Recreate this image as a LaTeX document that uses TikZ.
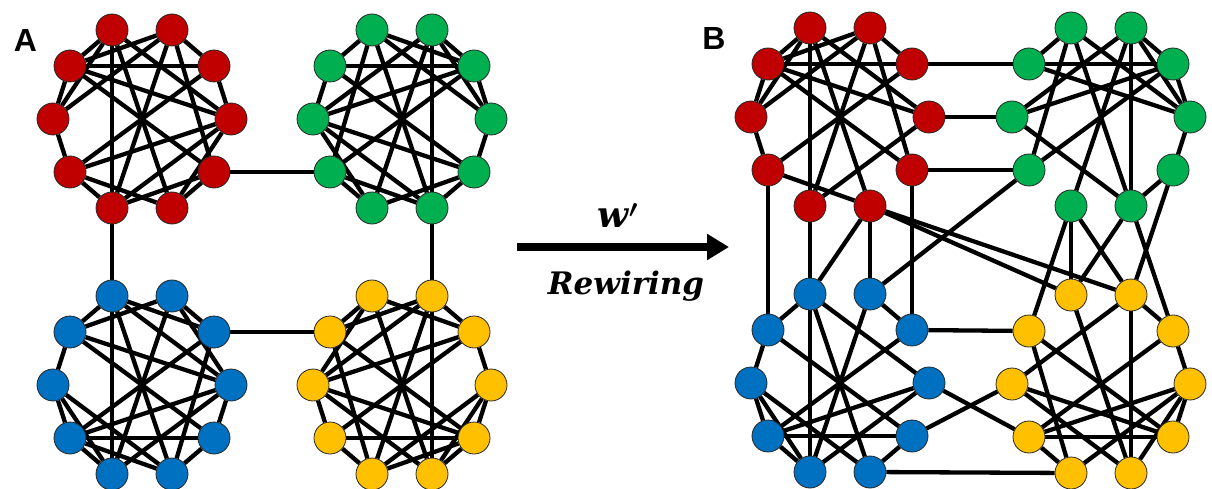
\documentclass[tikz,border=0pt]{standalone}
\usepackage{fontspec}
\usepackage{bm}
\newfontfamily\panelfont{Liberation Sans}
\newfontfamily\notefont{DejaVu Serif}
\usetikzlibrary{backgrounds,arrows.meta}

\definecolor{cred}{HTML}{C00000}
\definecolor{cgreen}{HTML}{00B050}
\definecolor{cblue}{HTML}{0070C0}
\definecolor{cyellow}{HTML}{FFC000}

\tikzset{
  vtx/.style={circle, draw=black!85, line width=0.8pt, minimum size=32pt, inner sep=0pt},
  edge/.style={line width=4.3pt, black},
  panel/.style={font=\panelfont\bfseries\fontsize{32}{32}\selectfont, inner sep=0pt},
  note/.style={inner sep=0pt, anchor=base},
}

% ten vertices on a decagon: #1 prefix, (#2,#3) centre, #4 fill colour
\newcommand\placecluster[4]{%
  \foreach \n/\dx/\dy in {TL/-30/-89,TR/30/-89,UL/-72/-53,UR/72/-53,L/-89/0,R/89/0,LL/-72/53,LR/72/53,BL/-30/89,BR/30/89}
    \node[vtx, fill=#4] (#1-\n) at ({#2+\dx},{#3+\dy}) {};
}
% links inside one cluster
\newcommand\linkin[2]{%
  \foreach \a/\b in {#2} \draw[edge] (#1-\a) -- (#1-\b);
}

\begin{document}
\begin{tikzpicture}[x=1pt, y=-1pt]
\useasboundingbox (0,0) rectangle (1212,489);

% ---------- panel A ----------
\placecluster{Ar}{142}{119}{cred}
\placecluster{Ag}{402}{119}{cgreen}
\placecluster{Ab}{142}{385}{cblue}
\placecluster{Ay}{402}{385}{cyellow}

% ---------- panel B ----------
\placecluster{Br}{840}{117}{cred}
\placecluster{Bg}{1101}{117}{cgreen}
\placecluster{Bb}{840}{383}{cblue}
\placecluster{By}{1101}{384}{cyellow}

\begin{scope}[on background layer]
  % modular network
  \linkin{Ar}{TL/UL, TL/BL, TL/BR, TL/R, TL/L, TR/UR, TR/UL, TR/L, TR/BL, TR/LR, UL/UR, UL/L, UL/R, UL/LR, UR/LL, UR/R, L/LL, LL/R, LL/BR, LL/BL, LR/BR, BL/LR, BL/R, BR/R}
  \linkin{Ag}{TR/UR, TR/BR, TR/BL, TR/L, TR/R, TL/UL, TL/UR, TL/R, TL/BR, TL/LL, UR/UL, UR/R, UR/L, UR/LL, UL/LR, UL/L, R/LR, LR/L, LR/BL, LR/BR, LL/BL, BR/LL, BR/L, BL/L}
  \linkin{Ab}{BL/LL, BL/TL, BL/TR, BL/R, BL/L, BR/LR, BR/LL, BR/L, BR/TL, BR/UR, LL/LR, LL/L, LL/R, LL/UR, LR/UL, LR/R, L/UL, UL/R, UL/TR, UL/TL, UR/TR, TL/UR, TL/R, TR/R}
  \linkin{Ay}{BR/LR, BR/TR, BR/TL, BR/L, BR/R, BL/LL, BL/LR, BL/R, BL/TR, BL/UL, LR/LL, LR/R, LR/L, LR/UL, LL/UR, LL/L, R/UR, UR/L, UR/TL, UR/TR, UL/TL, TR/UL, TR/L, TL/L}
  \draw[edge] (Ar-LR) -- (Ag-LL);
  \draw[edge] (Ar-BL) -- (Ab-TL);
  \draw[edge] (Ag-BR) -- (Ay-TR);
  \draw[edge] (Ab-UR) -- (Ay-UL);

  % rewired network
  \linkin{Br}{TL/UL, TR/UR, UL/UR, UL/L, TL/L, TR/L, L/LL, LL/UR, LL/BR, TL/BL, TL/BR, TL/R, TR/BL, TR/LR, TR/UL, UL/LR, UL/R, BL/R}
  \linkin{Bg}{TL/UL, TR/UR, UL/UR, UR/R, TR/R, R/LR, LR/BR, L/UR, L/TR, UL/R, L/BR, TL/BR, TL/LL, TR/BL, TR/BR, UR/LL, TL/R}
  \linkin{Bb}{TL/UL, TR/UR, UL/L, L/LL, L/BL, L/BR, LL/LR, LL/BL, BR/LR, TL/BL, TL/R, TL/BR, UL/LR, TR/BL, UR/LL, LL/R, BL/R}
  \linkin{By}{TR/UR, UR/R, R/LR, R/BR, LL/R, UL/BL, UL/LR, TL/BR, TR/BR, TR/L, UR/LL, L/LR, L/BR, LL/LR, LL/BL, BL/R}
  \foreach \a/\b in {Br-UR/Bg-UL, Br-R/Bg-L, Br-LR/Bg-LL, Br-LL/Bb-UL, Br-BL/Bb-TL,
                     Br-BR/Bb-TR, Br-BR/Bb-TL, Br-LR/Bb-UR, Br-BR/By-TL, Br-BR/By-TR,
                     Bg-LL/Bb-TR, Bg-BL/By-UL, Bg-BL/By-TL, Bg-BL/By-TR, Bg-BR/By-TL,
                     Bg-BR/By-UR, Bg-LR/By-TR, Bb-UR/By-UL, Bb-LR/By-L, Bb-R/By-LL, Bb-BR/By-BL}
    \draw[edge] (\a) -- (\b);
\end{scope}

% panel letters
\node[panel] (labA) at (25.5,40) {A};
\node[panel] (labB) at (714,38) {B};

% rewiring arrow
\coordinate (arrS) at (517,247);
\coordinate (arrE) at (729,247);
\draw[line width=8pt, -{Triangle[length=22pt,width=25pt]}] (arrS) -- (arrE);
\node[note, font=\notefont\bfseries\itshape\fontsize{36}{36}\selectfont] (wlab) at (618,227) {w$^{\bm{\prime}}$};
\node[note, font=\notefont\bfseries\itshape\fontsize{31}{31}\selectfont] (rlab) at (626,294) {Rewiring};
\end{tikzpicture}
\end{document}
